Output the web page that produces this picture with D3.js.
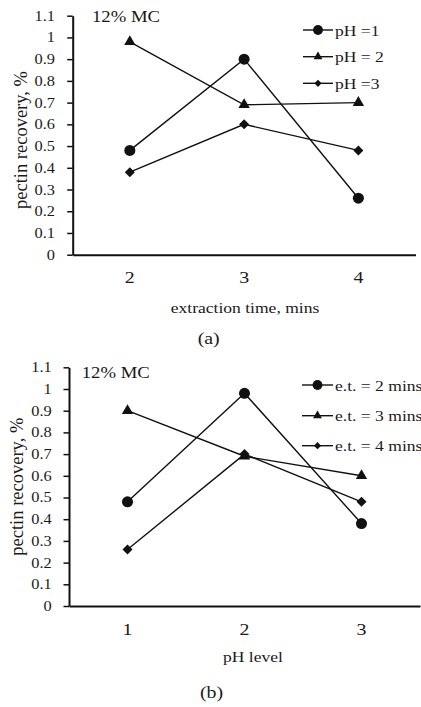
<!DOCTYPE html>
<html>
<head>
<meta charset="utf-8">
<script src="https://cdn.jsdelivr.net/npm/d3@7"></script>
<style>
html,body{margin:0;padding:0;background:#fff;}
svg{display:block;}
</style>
</head>
<body>
<svg id="chart" width="421" height="707"></svg>
<script>
// ---- data ----
const yTicks = [0,0.1,0.2,0.3,0.4,0.5,0.6,0.7,0.8,0.9,1,1.1];
const yTickLabels = ["0","0.1","0.2","0.3","0.4","0.5","0.6","0.7","0.8","0.9","1","1.1"];

const timeCats = ["2","3","4"];
const pH1 = [0.48,0.90,0.26];
const pH2 = [0.98,0.69,0.70];
const pH3 = [0.38,0.60,0.48];
const pHNames = ["pH =1","pH = 2","pH =3"];

const pHCats = ["1","2","3"];
const et2 = [0.48,0.98,0.38];
const et3 = [0.90,0.69,0.60];
const et4 = [0.26,0.70,0.48];
const etNames = ["e.t. = 2 mins","e.t. = 3 mins","e.t. = 4 mins"];

const SX = 1.17;
const FONT = "Liberation Serif";
const TXT = "#1a1a1a";
const svg = d3.select("#chart");

function stext(g, x, y, str, size, anchor){
  return g.append("text")
    .attr("transform",`translate(${x},${y}) scale(${SX},1)`)
    .attr("text-anchor",anchor||"start")
    .style("font-family",FONT)
    .style("font-size",size+"px")
    .attr("fill",TXT)
    .text(str);
}

const markerTypes = ["circle","triangle","diamond"];
function markerPath(type, big){
  if(type==="circle") return d3.symbol(d3.symbolCircle, big?96:76)();
  if(type==="triangle") return d3.symbol(d3.symbolTriangle, big?56:34)();
  return d3.symbol(d3.symbolSquare, big?50:26)();
}
function markerRot(type){ return type==="diamond" ? " rotate(45)" : ""; }

function panel(cfg){
  const g = svg.append("g");
  const x = d3.scaleBand().domain(cfg.cats).range(cfg.xRange).paddingInner(0).paddingOuter(0);
  const y = d3.scaleLinear().domain([0,1.1]).range([cfg.y0, cfg.y1]);

  // y axis
  const ya = g.append("g").attr("transform",`translate(${cfg.xRange[0]},0)`)
    .call(d3.axisLeft(y).tickValues(yTicks).tickFormat((d,i)=>yTickLabels[i])
      .tickSize(5.5).tickSizeOuter(0).tickPadding(0));
  ya.select(".domain").attr("stroke","#111").attr("stroke-width",2);
  ya.selectAll(".tick line").attr("stroke","#111").attr("stroke-width",1.5);
  ya.selectAll(".tick text")
    .attr("x", -cfg.labelGap/SX)
    .attr("transform",`scale(${SX},1)`)
    .style("font-size","14px")
    .style("font-family",FONT)
    .attr("fill",TXT);

  // x axis
  const xa = g.append("g").attr("transform",`translate(0,${cfg.y0})`)
    .call(d3.axisBottom(x).tickSize(0).tickSizeOuter(0).tickPadding(16.5));
  xa.select(".domain").attr("stroke","#111").attr("stroke-width",2);
  xa.selectAll(".tick text")
    .attr("transform",`scale(${SX},1)`)
    .style("font-size","17px")
    .style("font-family",FONT)
    .attr("fill",TXT);

  const cx = d => x(d) + x.bandwidth()/2;

  // lines
  const line = d3.line().x((d,i)=>cx(cfg.cats[i])).y(d=>y(d));
  cfg.series.forEach((s,k)=>{
    g.append("path").datum(s).attr("d",line)
      .attr("fill","none").attr("stroke","#111").attr("stroke-width",1.4);
  });
  cfg.series.forEach((s,k)=>{
    const t = markerTypes[k];
    g.selectAll(null).data(s).enter().append("path")
      .attr("d", markerPath(t,true))
      .attr("transform",(d,i)=>`translate(${cx(cfg.cats[i])},${y(d)})${markerRot(t)}`)
      .attr("fill","#111");
  });

  // legend
  cfg.names.forEach((n,k)=>{
    const ly = cfg.legendY[k];
    g.append("line").attr("x1",cfg.legX[0]).attr("x2",cfg.legX[1])
      .attr("y1",ly).attr("y2",ly).attr("stroke","#111").attr("stroke-width",1.4);
    const t = markerTypes[k];
    g.append("path").attr("d",markerPath(t,false))
      .attr("transform",`translate(${(cfg.legX[0]+cfg.legX[1])/2},${ly})${markerRot(t)}`)
      .attr("fill","#111");
    stext(g, cfg.legX[1]+2, ly+5.5, n, 15, "start");
  });

  // labels
  stext(g, cfg.mc[0], cfg.mc[1], "12% MC", 16, "start");
  stext(g, cfg.xTitle[0], cfg.xTitle[1], cfg.xTitleText, 15, "middle");
  stext(g, cfg.cap[0], cfg.cap[1], cfg.capText, 17, "middle");
  g.append("text")
    .attr("transform",`translate(${cfg.yTitle[0]},${cfg.yTitle[1]}) rotate(-90)`)
    .attr("text-anchor","middle")
    .style("font-family",FONT)
    .style("font-size","18.5px")
    .attr("fill",TXT)
    .text("pectin recovery, %");
}

panel({
  cats: timeCats, series:[pH1,pH2,pH3], names:pHNames,
  xRange:[72.7,415.5], y0:254.7, y1:15.7, labelGap:17.7,
  legendY:[30,56.7,83.3], legX:[303,333],
  mc:[92,22.3], xTitle:[245,312.7], xTitleText:"extraction time, mins",
  cap:[208.7,344], capText:"(a)", yTitle:[26.5,140]
});
panel({
  cats: pHCats, series:[et2,et3,et4], names:etNames,
  xRange:[69,420], y0:606, y1:367.3, labelGap:17.3,
  legendY:[385,415.7,445.7], legX:[302,333],
  mc:[81.7,378.3], xTitle:[253,661.7], xTitleText:"pH level",
  cap:[211.5,698], capText:"(b)", yTitle:[22.5,486.7]
});
</script>
</body>
</html>
